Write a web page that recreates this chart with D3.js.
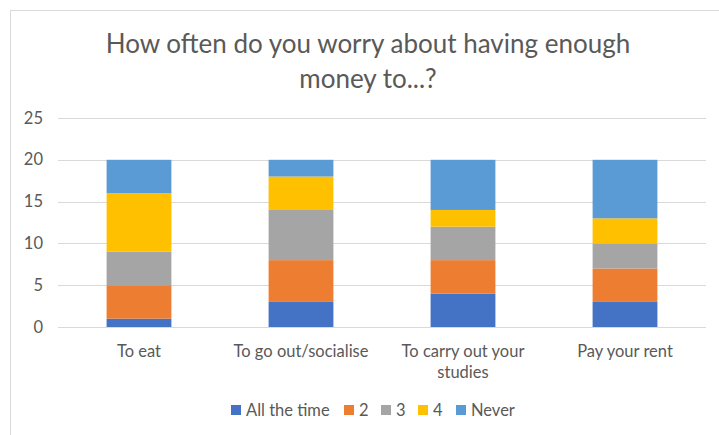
<!DOCTYPE html>
<html>
<head>
<meta charset="utf-8">
<script src="https://cdn.jsdelivr.net/npm/d3@7"></script>
<style>
  body { margin: 0; background: #fff; }
  text { font-family: Lato, "Open Sans", sans-serif; fill: #595959; }
</style>
</head>
<body>
<svg id="chart"></svg>
<script>
const categories = ["To eat", "To go out/socialise", "To carry out your studies", "Pay your rent"];
const seriesNames = ["All the time", "2", "3", "4", "Never"];
const allTheTime = [1, 3, 4, 3];
const two = [4, 5, 4, 4];
const three = [4, 6, 4, 3];
const four = [7, 4, 2, 3];
const never = [4, 2, 6, 7];
const yTicks = [0, 5, 10, 15, 20, 25];
const colors = ["#4472c4", "#ed7d31", "#a5a5a5", "#ffc000", "#5b9bd5"];

(function () {
    const width = 719;
    const height = 435;
    const margin = { left: 58, right: 13, top: 118, bottom: 108 };

    const svg = d3.select('#chart')
        .attr('width', width)
        .attr('height', height);

    // chart frame
    svg.append('rect')
        .attr('x', 10.5).attr('y', 10.5)
        .attr('width', width + 10).attr('height', height + 10)
        .attr('fill', 'none').attr('stroke', '#d9d9d9');

    svg.append('text')
        .attr('x', 368).attr('y', 53)
        .attr('text-anchor', 'middle')
        .style('font-size', '26px')
        .text('How often do you worry about having enough');
    svg.append('text')
        .attr('x', 368).attr('y', 88)
        .attr('text-anchor', 'middle')
        .style('font-size', '26px')
        .text('money to...?');

    const table = categories.map((c, i) => ({
        cat: c,
        "All the time": allTheTime[i],
        "2": two[i],
        "3": three[i],
        "4": four[i],
        "Never": never[i]
    }));
    const stacked = d3.stack().keys(seriesNames)(table);

    const xScale = d3.scaleBand()
        .domain(categories)
        .range([margin.left, width - margin.right])
        .paddingInner(0.6)
        .paddingOuter(0.3);

    const yScale = d3.scaleLinear()
        .domain([0, 25])
        .range([height - margin.bottom, margin.top]);

    // gridlines
    svg.append('g')
        .selectAll('line')
        .data(yTicks)
        .join('line')
        .attr('x1', margin.left).attr('x2', width - margin.right)
        .attr('y1', d => Math.round(yScale(d)) + 0.5)
        .attr('y2', d => Math.round(yScale(d)) + 0.5)
        .attr('stroke', '#d9d9d9');

    svg.append('g')
        .selectAll('text')
        .data(yTicks)
        .join('text')
        .attr('x', 43)
        .attr('y', d => yScale(d) + 5.5)
        .attr('text-anchor', 'end')
        .style('font-size', '16.5px')
        .text(d => d);

    svg.append('g')
        .selectAll('g')
        .data(stacked)
        .join('g')
        .attr('fill', (d, i) => colors[i])
        .selectAll('rect')
        .data(d => d)
        .join('rect')
        .attr('x', d => xScale(d.data.cat))
        .attr('width', xScale.bandwidth())
        .attr('y', d => yScale(d[1]))
        .attr('height', d => yScale(d[0]) - yScale(d[1]));

    // redraw baseline on top
    svg.append('line')
        .attr('x1', margin.left).attr('x2', width - margin.right)
        .attr('y1', Math.round(yScale(0)) + 0.5).attr('y2', Math.round(yScale(0)) + 0.5)
        .attr('stroke', '#d9d9d9');

    // category labels, wrapped like the original
    const labelLines = {
        "To eat": ["To eat"],
        "To go out/socialise": ["To go out/socialise"],
        "To carry out your studies": ["To carry out your", "studies"],
        "Pay your rent": ["Pay your rent"]
    };
    const xLabels = svg.append('g')
        .selectAll('text')
        .data(categories)
        .join('text')
        .attr('text-anchor', 'middle')
        .attr('x', d => xScale(d) + xScale.bandwidth() / 2)
        .attr('y', 357)
        .style('font-size', '16.5px');
    xLabels.selectAll('tspan')
        .data(d => labelLines[d].map(l => ({ l, x: xScale(d) + xScale.bandwidth() / 2 })))
        .join('tspan')
        .attr('x', d => d.x)
        .attr('dy', (d, i) => i === 0 ? 0 : 21)
        .text(d => d.l);

    // legend
    const legendX = [231, 344, 381, 418, 456];
    const legend = svg.append('g')
        .selectAll('g')
        .data(seriesNames)
        .join('g')
        .attr('transform', (d, i) => `translate(${legendX[i]},410)`);
    legend.append('rect')
        .attr('x', 0).attr('y', -5)
        .attr('width', 10).attr('height', 10)
        .attr('fill', (d, i) => colors[i]);
    legend.append('text')
        .attr('x', 15).attr('y', 6)
        .style('font-size', '16.5px')
        .text(d => d);
})();
</script>
</body>
</html>
